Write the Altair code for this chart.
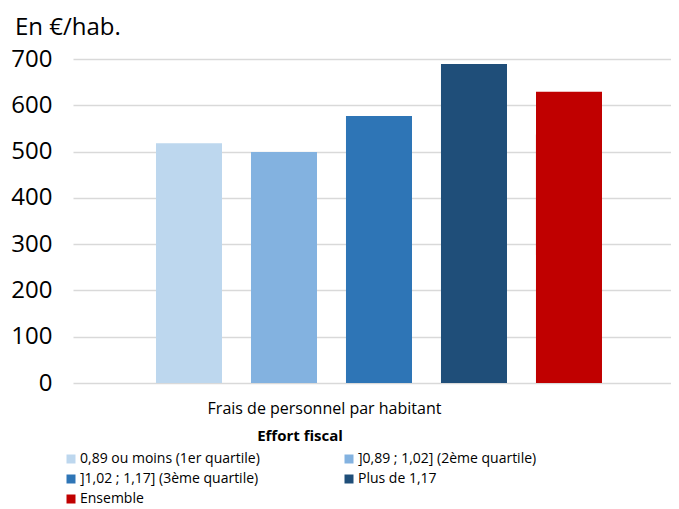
import altair as alt
import pandas as pd

series = [
    "0,89 ou moins (1er quartile)",
    "]0,89 ; 1,02] (2ème quartile)",
    "]1,02 ; 1,17] (3ème quartile)",
    "Plus de 1,17",
    "Ensemble",
]
values = [518, 499, 577, 689, 629]
colors = ["#BDD7EE", "#83B2E0", "#2E75B6", "#1F4E79", "#C00000"]
category = "Frais de personnel par habitant"
y_ticks = [0, 100, 200, 300, 400, 500, 600, 700]

df = pd.DataFrame({"serie": series, "valeur": values})

FONT = "Open Sans"

chart = (
    alt.Chart(df)
    .mark_bar()
    .encode(
        x=alt.X(
            "serie:N",
            sort=series,
            scale=alt.Scale(paddingInner=0.305, paddingOuter=0.8, align=0.546),
            axis=alt.Axis(
                labels=False, ticks=False, domain=False, grid=False,
                title=category, titleX=251, titleY=25, titleBaseline="middle",
                titleAlign="center", titleFontSize=16, titleFontWeight="normal",
                titleColor="#000000", titleFont=FONT,
            ),
        ),
        y=alt.Y(
            "valeur:Q",
            scale=alt.Scale(domain=[0, 700], nice=False),
            axis=alt.Axis(
                values=y_ticks, title=None, domain=False, ticks=False,
                gridColor="#D9D9D9", gridWidth=1.5, labelFontSize=24,
                labelColor="#000000", labelPadding=21, labelFont=FONT,
            ),
        ),
        color=alt.Color(
            "serie:N",
            sort=series,
            scale=alt.Scale(domain=series, range=colors),
            legend=alt.Legend(
                title="Effort fiscal", orient="none", legendX=-9, legendY=370,
                direction="horizontal",
                columns=2, columnPadding=82, rowPadding=6,
                symbolType="square", symbolSize=81, symbolStrokeWidth=0,
                labelOffset=2,
                labelFontSize=14, labelFont=FONT, labelColor="#000000",
                titleFontSize=15, titleFont=FONT, titleFontWeight="bold",
                titleColor="#000000", titleAnchor="middle", titlePadding=8,
                labelLimit=400,
            ),
        ),
    )
    .properties(
        width=598,
        height=324,
        title=alt.TitleParams(
            "En €/hab.", anchor="start", frame="group", dx=-58, offset=7,
            fontSize=24, font=FONT, fontWeight="normal", color="#000000",
        ),
        autosize=alt.AutoSizeParams(type="none"),
        padding={"left": 65, "top": 51, "right": 0, "bottom": 124},
    )
    .configure_view(stroke=None)
)

chart.save("out.html", embed_options={"renderer": "svg", "actions": False})
